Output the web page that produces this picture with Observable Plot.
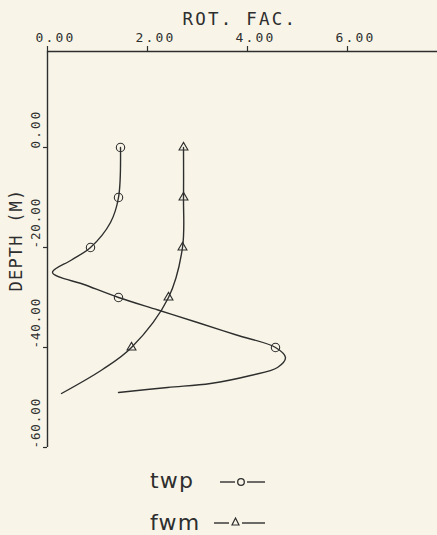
<!DOCTYPE html>
<html><head><meta charset="utf-8">
<script src="https://cdn.jsdelivr.net/npm/d3@7"></script>
<script src="https://cdn.jsdelivr.net/npm/@observablehq/plot@0.6"></script>
<style>
html,body{margin:0;padding:0;background:#f8f5e8;}
#wrap{position:relative;width:437px;height:535px;overflow:hidden;}
svg{display:block;}
</style></head>
<body><div id="wrap"></div>
<script>
// twp curve (ROT. FAC. vs depth in m)
const twpDepth = [0, -10, -15, -20, -22.5, -25, -27.5, -30, -32.5, -35, -37.5, -40, -42, -44, -45.6, -47.2, -48, -49];
const twpValue = [1.46, 1.42, 1.26, 0.86, 0.48, 0.1, 0.76, 1.42, 2.21, 3.0, 3.78, 4.56, 4.76, 4.6, 4.06, 3.26, 2.4, 1.42];
const twpMarkDepth = [0, -10, -20, -30, -40];
const twpMarkValue = [1.46, 1.42, 0.86, 1.42, 4.56];
// fwm curve
const fwmDepth = [0, -10, -20, -30, -40, -44.4, -49.2];
const fwmValue = [2.72, 2.72, 2.70, 2.42, 1.68, 1.1, 0.28];
const fwmMarkDepth = [0, -10, -20, -30, -40];
const fwmMarkValue = [2.72, 2.72, 2.70, 2.42, 1.68];
// ticks
const xTicks = [0, 2, 4, 6];
const xTickLabels = ["0.00", "2.00", "4.00", "6.00"];
const yTicks = [0, -20, -40, -60];
const yTickLabels = ["0.00", "-20.00", "-40.00", "-60.00"];
const xTitle = "ROT. FAC.";
const yTitle = "DEPTH (M)";
const legendNames = ["twp", "fwm"];

const ink = "#2e2e2e";
const toRows = (ds, vs) => ds.map((d, i) => ({depth: d, v: vs[i]}));
const twp = toRows(twpDepth, twpValue), fwm = toRows(fwmDepth, fwmValue);
const twpM = toRows(twpMarkDepth, twpMarkValue), fwmM = toRows(fwmMarkDepth, fwmMarkValue);
const xt = xTicks.map((t, i) => ({t, label: xTickLabels[i]}));
const yt = yTicks.map((t, i) => ({t, label: yTickLabels[i]}));
const yTop = 19.2;

const chart = Plot.plot({
  width: 437, height: 460,
  marginTop: 51, marginBottom: 13, marginLeft: 47, marginRight: 0,
  x: {domain: [0, 7.8], axis: null},
  y: {domain: [-60, yTop], axis: null},
  style: {background: "transparent", overflow: "visible"},
  marks: [
    Plot.ruleY([yTop], {stroke: ink, strokeWidth: 1.4}),
    Plot.ruleX([0], {stroke: ink, strokeWidth: 1.4}),
    Plot.axisX({anchor: "top", ticks: xTicks, tickSize: 6, tickFormat: () => "", label: null, stroke: ink, strokeWidth: 1.2}),
    Plot.axisY({anchor: "left", ticks: yTicks, tickSize: 4, tickFormat: () => "", label: null, stroke: ink, strokeWidth: 1.2}),
    Plot.text(xt, {x: "t", y: yTop, text: "label", textAnchor: "start", dx: -12, dy: -14,
      fontFamily: "DejaVu Sans Mono", fontSize: 13, fill: ink}),
    Plot.text(yt, {y: "t", x: 0, text: "label", rotate: -90, textAnchor: "start", dx: -12, dy: 1,
      fontFamily: "DejaVu Sans Mono", fontSize: 12.5, fill: ink}),
    Plot.text([xTitle], {x: 2.7, y: yTop, text: d => d, textAnchor: "start", dy: -32,
      fontFamily: "DejaVu Sans Mono", fontSize: 17.5, fill: ink}),
    Plot.text([yTitle], {x: 0, y: -18.5, text: d => d, rotate: -90, dx: -31,
      fontFamily: "DejaVu Sans Mono", fontSize: 17, fill: ink}),
    Plot.line(twp, {x: "v", y: "depth", curve: "catmull-rom", stroke: ink, strokeWidth: 1.4}),
    Plot.line(fwm, {x: "v", y: "depth", curve: "catmull-rom", stroke: ink, strokeWidth: 1.4}),
    Plot.dot(twpM, {x: "v", y: "depth", r: 4.2, stroke: ink, strokeWidth: 1.1, fill: "none"}),
    Plot.dot(fwmM, {x: "v", y: "depth", symbol: "triangle", r: 3.3, stroke: ink, strokeWidth: 1.1, fill: "none"})
  ]
});
// letter spacing of the plotter-style lettering
d3.select(chart).selectAll("text").each(function() {
  const s = this.textContent;
  if (xTickLabels.includes(s)) this.setAttribute("letter-spacing", "2.2");
  else if (yTickLabels.includes(s)) this.setAttribute("letter-spacing", "0.9");
  else if (s === xTitle) this.setAttribute("letter-spacing", "2.2");
  else if (s === yTitle) this.setAttribute("letter-spacing", "1.2");
});
const wrap = document.getElementById("wrap");
wrap.appendChild(chart);

// legend below the chart
const ns = "http://www.w3.org/2000/svg";
const lg = document.createElementNS(ns, "svg");
lg.setAttribute("width", 437); lg.setAttribute("height", 75);
const rows = [
  {name: legendNames[0], ty: 28, ly: 22, l1: [220, 235], l2: [247, 265], sym: "circle", sx: 241},
  {name: legendNames[1], ty: 70, ly: 63, l1: [214, 229], l2: [242, 265], sym: "triangle", sx: 235.5}
];
for (const r of rows) {
  const t = document.createElementNS(ns, "text");
  t.setAttribute("x", 150); t.setAttribute("y", r.ty);
  t.setAttribute("font-family", "DejaVu Sans"); t.setAttribute("font-size", 22);
  t.setAttribute("fill", ink); t.setAttribute("letter-spacing", "1.2");
  t.textContent = r.name; lg.appendChild(t);
  for (const [a, b] of [r.l1, r.l2]) {
    const l = document.createElementNS(ns, "line");
    l.setAttribute("x1", a); l.setAttribute("x2", b); l.setAttribute("y1", r.ly); l.setAttribute("y2", r.ly);
    l.setAttribute("stroke", ink); l.setAttribute("stroke-width", 1.4); lg.appendChild(l);
  }
  if (r.sym === "circle") {
    const c = document.createElementNS(ns, "circle");
    c.setAttribute("cx", r.sx); c.setAttribute("cy", r.ly); c.setAttribute("r", 3.3);
    c.setAttribute("fill", "none"); c.setAttribute("stroke", ink); c.setAttribute("stroke-width", 1.3);
    lg.appendChild(c);
  } else {
    const p = document.createElementNS(ns, "path");
    const x = r.sx, y = r.ly;
    p.setAttribute("d", `M${x},${y - 5}L${x + 3.5},${y + 2}L${x - 3.5},${y + 2}Z`);
    p.setAttribute("fill", "none"); p.setAttribute("stroke", ink); p.setAttribute("stroke-width", 1.2);
    lg.appendChild(p);
  }
}
wrap.appendChild(lg);
</script></body></html>
